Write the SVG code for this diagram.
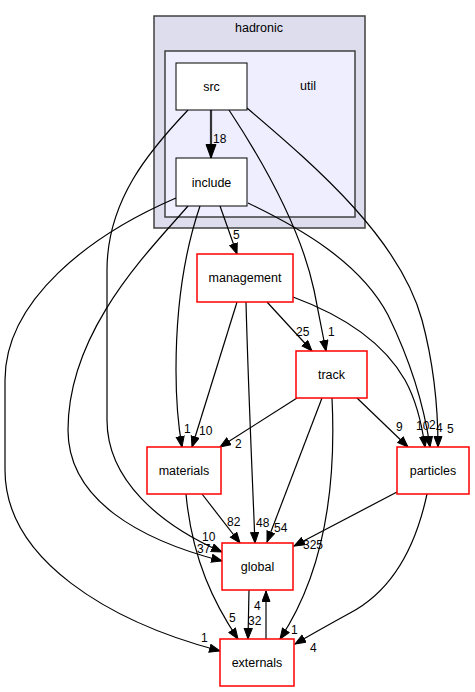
<svg xmlns="http://www.w3.org/2000/svg" width="475" height="692" viewBox="0 0 475 692">
<defs>
<marker id="ah" markerUnits="userSpaceOnUse" markerWidth="12" markerHeight="10" refX="11" refY="4.5" orient="auto"><path d="M0.5,0.5 L11,4.5 L0.5,8.5 z" fill="#000" stroke="#000" stroke-width="1"/></marker>
<marker id="ahb" markerUnits="userSpaceOnUse" markerWidth="15" markerHeight="12" refX="14" refY="5.5" orient="auto"><path d="M0.5,0.5 L14,5.5 L0.5,10.5 z" fill="#000" stroke="#000" stroke-width="1"/></marker>
</defs>
<style>
.cl1{fill:#ddddee;stroke:#404040;stroke-width:1.5}
.cl2{fill:#eeeeff;stroke:#404040;stroke-width:1.5}
.n{fill:#fff;stroke:#000;stroke-width:1}
.nr{fill:#fff;stroke:#ff0000;stroke-width:1.5}
.t{font-family:"Liberation Sans",Arial,sans-serif;font-size:12.5px;fill:#000;text-anchor:middle}
.e{fill:none;stroke:#000;stroke-width:1.2;marker-end:url(#ah)}
.eb{fill:none;stroke:#333;stroke-width:2.2;marker-end:url(#ahb)}
.l{font-family:"Liberation Sans",Arial,sans-serif;font-size:12px;fill:#000}
</style>
<rect width="475" height="692" fill="#fff"/>
<g id="cluster_hadronic">
<rect class="cl1" x="154" y="16" width="211" height="212"/>
<text class="t" x="259" y="32">hadronic</text>
</g>
<g id="cluster_util">
<rect class="cl2" x="165" y="51" width="190" height="166"/>
<text class="t" x="308" y="90">util</text>
</g>
<g id="connectors">
<g id="labels">
<text class="l" x="213" y="143">18</text>
<text class="l" x="233" y="239">5</text>
<text class="l" x="328" y="336">1</text>
<text class="l" x="296" y="336">25</text>
<text class="l" x="184" y="433">1</text>
<text class="l" x="199" y="435">10</text>
<text class="l" x="235" y="448">2</text>
<text class="l" x="396" y="431">9</text>
<text class="l" x="416" y="430">10</text>
<text class="l" x="429" y="429">2</text>
<text class="l" x="436" y="432">4</text>
<text class="l" x="447" y="433">5</text>
<text class="l" x="227" y="526">82</text>
<text class="l" x="256" y="527">48</text>
<text class="l" x="274" y="532">54</text>
<text class="l" x="202" y="541">10</text>
<text class="l" x="197" y="553">37</text>
<text class="l" x="303" y="549">325</text>
<text class="l" x="229" y="622">5</text>
<text class="l" x="254" y="610">4</text>
<text class="l" x="248" y="625">32</text>
<text class="l" x="291" y="634">1</text>
<text class="l" x="201" y="642">1</text>
<text class="l" x="310" y="652">4</text>
</g>
<path class="eb" d="M211,110 L211,158"/>
<path class="e" d="M220,206 L237,254"/>
<path class="e" d="M229,110 C262,160 300,225 314,290 L326,351"/>
<path class="e" d="M247,108 C320,170 400,240 422,320 C434,365 438,410 438,447"/>
<path class="e" d="M248,203 C300,228 360,262 388,315 C410,360 424,405 430,447"/>
<path class="e" d="M188,110 C150,150 107,200 107,270 L107,420 C107,480 160,525 222,552"/>
<path class="e" d="M188,206 C150,250 68,330 68,430 C68,500 140,540 222,561"/>
<path class="e" d="M176,198 C90,235 5,300 5,380 L5,470 C5,560 110,622 220,651"/>
<path class="e" d="M200,206 C185,250 176,300 176,370 C176,410 179,430 182,447"/>
<path class="e" d="M267,302 L312,351"/>
<path class="e" d="M293,297 C350,318 385,345 405,380 C416,400 422,425 425,447"/>
<path class="e" d="M237,302 L192,447"/>
<path class="e" d="M246,302 C248,380 252,470 255,543"/>
<path class="e" d="M297,398 L220,447"/>
<path class="e" d="M357,398 L408,447"/>
<path class="e" d="M322,398 L267,542"/>
<path class="e" d="M332,398 C336,480 326,570 280,639"/>
<path class="e" d="M202,494 L240,543"/>
<path class="e" d="M186,494 C192,560 215,605 238,639"/>
<path class="e" d="M397,492 L294,546"/>
<path class="e" d="M427,494 C415,550 390,592 350,613 C330,624 312,634 295,644"/>
<path class="e" d="M249,590 L248,639"/>
<path class="e" d="M266,639 L266,591"/>
</g>
<g id="node_src"><rect class="n" x="176" y="63" width="71" height="47"/><text class="t" x="211.5" y="91">src</text></g>
<g id="node_include"><rect class="n" x="176" y="158" width="71" height="48"/><text class="t" x="211.5" y="187">include</text></g>
<g id="node_management"><rect class="nr" x="197" y="254" width="96" height="48"/><text class="t" x="245" y="282">management</text></g>
<g id="node_track"><rect class="nr" x="296" y="351" width="71" height="47"/><text class="t" x="331.5" y="379">track</text></g>
<g id="node_materials"><rect class="nr" x="147" y="447" width="74" height="47"/><text class="t" x="184" y="475">materials</text></g>
<g id="node_particles"><rect class="nr" x="397" y="447" width="72" height="47"/><text class="t" x="433" y="475">particles</text></g>
<g id="node_global"><rect class="nr" x="222" y="543" width="71" height="47"/><text class="t" x="257.5" y="571">global</text></g>
<g id="node_externals"><rect class="nr" x="220" y="639" width="74" height="47"/><text class="t" x="257" y="667">externals</text></g>
</svg>
